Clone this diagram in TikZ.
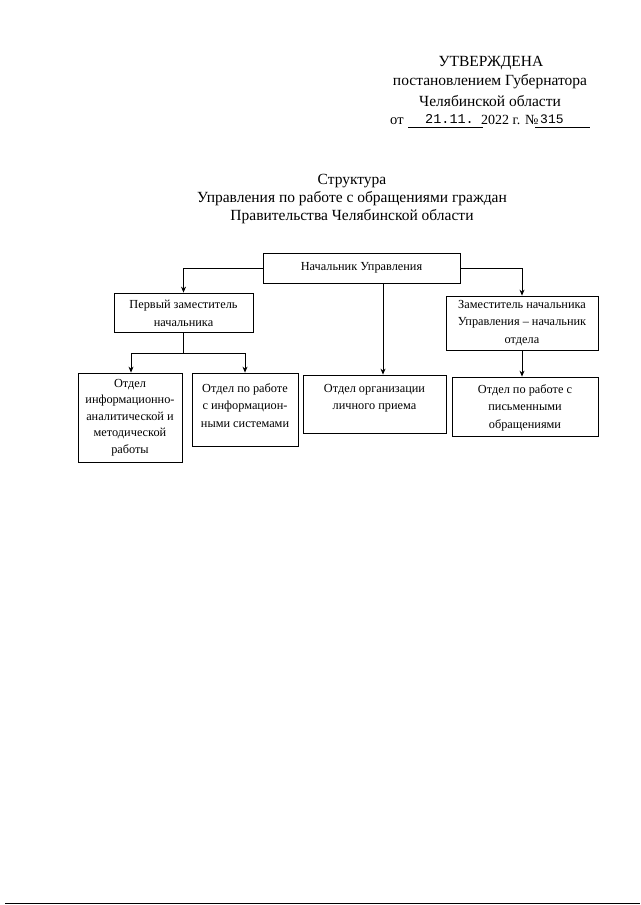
\documentclass[tikz,border=0pt]{standalone}
\usepackage{fontspec}
\setmainfont{Liberation Serif}
\newfontfamily\courfont{Liberation Mono}
\usetikzlibrary{arrows.meta}
\tikzset{
  box/.style={draw, line width=0.8pt, inner sep=0pt},
  txt/.style={align=center, font=\fontsize{12.3}{17.5}\selectfont, inner sep=0pt},
  hdr/.style={font=\fontsize{15.5}{18}\selectfont, inner sep=0pt},
  hdrw/.style={font=\fontsize{14.5}{18}\selectfont, inner sep=0pt, anchor=base west},
  conn/.style={line width=0.8pt},
  arr/.style={line width=0.8pt, -{Stealth[length=6pt,width=5pt]}}
}
\begin{document}
\begin{tikzpicture}[x=1pt,y=-1pt]
\useasboundingbox[fill=white] (0,0) rectangle (640,905);
% header
\node[hdr] (h1) at (491,63) {УТВЕРЖДЕНА};
\node[hdr] (h2) at (490,82) {постановлением Губернатора};
\node[hdr] (h3) at (490,101) {Челябинской области};
\node[hdrw] (h4a) at (390,124) {от};
\node[hdrw] (h4b) at (425,123) {\fontsize{13.5}{18}\selectfont\courfont 21.11.};
\node[hdrw] (h4c) at (481,124) {\fontsize{14}{18}\selectfont 2022 г. №};
\node[hdrw] (h4d) at (540,123) {\fontsize{13}{18}\selectfont\courfont 315};
\coordinate (u1a) at (408,127);
\coordinate (u1b) at (483,127);
\coordinate (u2a) at (535,127);
\coordinate (u2b) at (590,127);
\draw[line width=0.7pt] (u1a) -- (u1b);
\draw[line width=0.7pt] (u2a) -- (u2b);
% title
\node[hdr] (t1) at (352,181) {Структура};
\node[hdr] (t2) at (352,199) {Управления по работе с обращениями граждан};
\node[hdr] (t3) at (352,217) {Правительства Челябинской области};
% boxes
\node[box, minimum width=197pt, minimum height=30pt] (head) at (361.5,268) {};
\node[txt] at (head.center) {Начальник Управления};
\node[box, minimum width=139pt, minimum height=39pt] (p1) at (183.5,312.5) {};
\node[txt] at ([yshift=-1pt]p1.center) {Первый заместитель\\начальника};
\node[box, minimum width=152pt, minimum height=54pt] (z) at (522,323) {};
\node[txt] at (z.center) {Заместитель начальника\\Управления -- начальник\\отдела};
\node[box, minimum width=104pt, minimum height=89pt] (b1) at (130,417.5) {};
\node[txt, font=\fontsize{12.3}{16.5}\selectfont] at (b1.center) {Отдел\\информационно-\\аналитической и\\методической\\работы};
\node[box, minimum width=106pt, minimum height=73pt] (b2) at (245,409.5) {};
\node[txt] at ([yshift=4pt]b2.center) {Отдел по работе\\с информацион-\\ными системами};
\node[box, minimum width=143pt, minimum height=58pt] (b3) at (374.5,404) {};
\node[txt] at ([yshift=6pt]b3.center) {Отдел организации\\личного приема};
\node[box, minimum width=146pt, minimum height=59pt] (b4) at (525,406.5) {};
\node[txt] at ([yshift=-1pt]b4.center) {Отдел по работе с\\письменными\\обращениями};
% connectors
\draw[arr] (head.west) -| (p1.north);
\draw[arr] (head.east) -| (z.north);
\draw[arr] ([xshift=21.5pt]head.south) -- ([xshift=21.5pt]head.south |- b3.north);
\draw[conn] (p1.south) -- ++(0,21) coordinate (j1);
\draw[arr] (j1) -| ([xshift=1pt]b1.north);
\draw[arr] (j1) -| (b2.north);
\draw[arr] (z.south) -- (z.south |- b4.north);
% bottom rule
\coordinate (r1) at (5,903);
\coordinate (r2) at (640,903);
\draw[line width=1pt] (r1) -- (r2);
\end{tikzpicture}
\end{document}
